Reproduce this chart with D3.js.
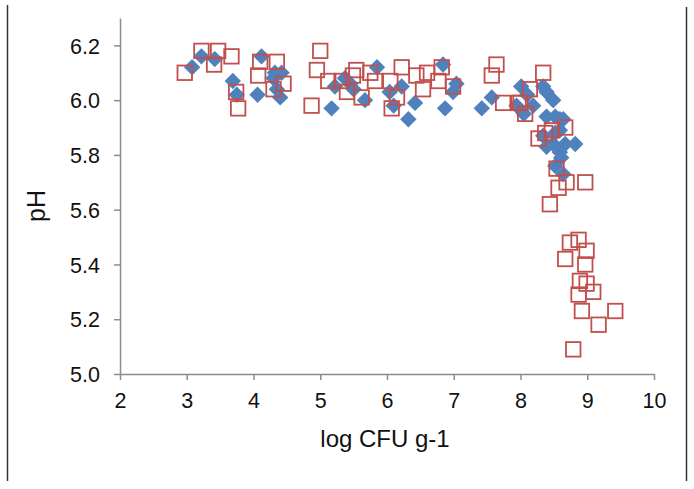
<!DOCTYPE html>
<html>
<head>
<meta charset="utf-8">
<script src="https://cdn.jsdelivr.net/npm/d3@7"></script>
<style>
body { margin: 0; background: #fff; }
svg { display: block; font-family: "Liberation Sans", Arial, sans-serif; }
</style>
</head>
<body>
<svg id="svg_elem"></svg>
<script>
//define constants
const svgWidth = 694;
const svgHeight = 489;
const margin = {top: 18, right: 40, bottom: 115, left: 120};

//series 1 (blue diamonds): [log CFU g-1, pH]
const seriesA = [
	[3.08,6.12],[3.22,6.16],[3.42,6.15],[3.69,6.07],[3.75,6.02],[4.06,6.02],[4.12,6.16],[4.30,6.08],
	[4.32,6.10],[4.42,6.10],[4.40,6.01],[4.35,6.04],[5.17,5.97],[5.22,6.05],[5.37,6.08],[5.45,6.06],
	[5.50,6.04],[5.67,6.00],[5.85,6.12],[6.04,6.03],[6.10,5.98],[6.22,6.05],[6.32,5.93],[6.42,5.99],
	[6.84,6.13],[6.87,5.97],[6.99,6.03],[7.04,6.06],[7.42,5.97],[7.57,6.01],[7.94,5.98],[8.01,6.05],
	[8.05,5.95],[8.10,6.02],[8.19,5.98],[8.34,6.05],[8.39,6.03],[8.49,6.00],[8.39,5.94],[8.52,5.94],
	[8.59,5.93],[8.64,5.93],[8.34,5.87],[8.52,5.88],[8.59,5.89],[8.39,5.83],[8.49,5.84],[8.67,5.84],
	[8.82,5.84],[8.59,5.81],[8.61,5.79],[8.52,5.76],[8.64,5.73]
];

//series 2 (red open squares)
const seriesB = [
	[2.97,6.10],[3.22,6.18],[3.47,6.18],[3.41,6.13],[3.67,6.16],[3.74,6.03],[3.77,5.97],[4.07,6.09],
	[4.10,6.14],[4.35,6.14],[4.30,6.04],[4.45,6.06],[4.87,5.98],[4.95,6.11],[5.00,6.18],[5.12,6.07],
	[5.32,6.07],[5.40,6.03],[5.49,6.09],[5.54,6.11],[5.62,6.01],[5.75,6.10],[5.82,6.07],[6.05,6.07],
	[6.07,5.97],[6.15,6.01],[6.22,6.12],[6.44,6.09],[6.54,6.04],[6.60,6.10],[6.77,6.07],[6.82,6.12],
	[6.99,6.05],[7.57,6.09],[7.64,6.13],[7.74,5.99],[7.97,5.99],[8.00,5.99],[8.07,5.95],[8.14,6.04],
	[8.34,6.10],[8.27,5.86],[8.37,5.88],[8.47,5.89],[8.67,5.90],[8.54,5.75],[8.69,5.70],[8.57,5.68],
	[8.97,5.70],[8.44,5.62],[8.87,5.49],[8.74,5.48],[8.99,5.45],[8.67,5.42],[8.97,5.40],[8.89,5.34],
	[8.99,5.33],[8.87,5.29],[9.09,5.30],[8.92,5.23],[9.17,5.18],[9.42,5.23],[8.79,5.09]
];

//tick values
const xTicks = [2, 3, 4, 5, 6, 7, 8, 9, 10];
const yTicks = [5.0, 5.2, 5.4, 5.6, 5.8, 6.0, 6.2];

const axisColor = '#8c8c8c';

var svg = d3.select('#svg_elem')
	.attr('width', svgWidth)
	.attr('height', svgHeight);

//outer frame lines
svg.append('line')
	.attr('x1', 7.5).attr('x2', 7.5).attr('y1', 5).attr('y2', 481)
	.attr('stroke', '#333').attr('stroke-width', 1.5);
svg.append('line')
	.attr('x1', 686.5).attr('x2', 686.5).attr('y1', 7).attr('y2', 481)
	.attr('stroke', '#333').attr('stroke-width', 1.5);

//scales
var xScale = d3.scaleLinear()
	.domain([2, 10])
	.range([margin.left, svgWidth - margin.right]);

var yScale = d3.scaleLinear()
	.domain([5.0, 6.3])
	.range([svgHeight - margin.bottom, margin.top]);

//axes
var xAxis = d3.axisBottom(xScale)
	.tickValues(xTicks)
	.tickFormat(d3.format('d'))
	.tickSizeInner(6)
	.tickSizeOuter(0)
	.tickPadding(11);

var yAxis = d3.axisLeft(yScale)
	.tickValues(yTicks)
	.tickFormat(d3.format('.1f'))
	.tickSizeInner(6)
	.tickSizeOuter(0)
	.tickPadding(14);

var gx = svg.append('g')
	.attr('transform', `translate(0, ${yScale(5.0)})`)
	.call(xAxis);

var gy = svg.append('g')
	.attr('transform', `translate(${xScale(2)}, 0)`)
	.call(yAxis);

[gx, gy].forEach(g => {
	g.select('.domain').attr('stroke', axisColor).attr('stroke-width', 1.5);
	g.selectAll('.tick line').attr('stroke', axisColor).attr('stroke-width', 1.5);
	g.selectAll('.tick text')
		.attr('fill', '#111')
		.style('font-size', '21.5px')
		.style('font-family', '"Liberation Sans", Arial, sans-serif');
});
gy.selectAll('.tick text').attr('dy', '0.36em');
gx.selectAll('.tick text').attr('dy', '0.8em');

//axis titles
svg.append('text')
	.attr('x', 385)
	.attr('y', 447)
	.attr('text-anchor', 'middle')
	.attr('fill', '#111')
	.style('font-size', '24px')
	.text('log CFU g-1');

svg.append('text')
	.attr('transform', `translate(45, 206) rotate(-90)`)
	.attr('text-anchor', 'middle')
	.attr('fill', '#111')
	.style('font-size', '25px')
	.text('pH');

//diamond markers
const d = 8.2;
svg.append('g')
	.selectAll('path')
	.data(seriesA)
	.enter()
	.append('path')
		.attr('d', `M0,${-d}L${d},0L0,${d}L${-d},0Z`)
		.attr('transform', p => `translate(${xScale(p[0])}, ${yScale(p[1])})`)
		.attr('fill', '#4f81bd');

//square markers
const s = 14.5;
svg.append('g')
	.selectAll('rect')
	.data(seriesB)
	.enter()
	.append('rect')
		.attr('x', p => xScale(p[0]) - s/2)
		.attr('y', p => yScale(p[1]) - s/2)
		.attr('width', s)
		.attr('height', s)
		.attr('fill', 'none')
		.attr('stroke', '#c0504d')
		.attr('stroke-width', 1.8);
</script>
</body>
</html>
